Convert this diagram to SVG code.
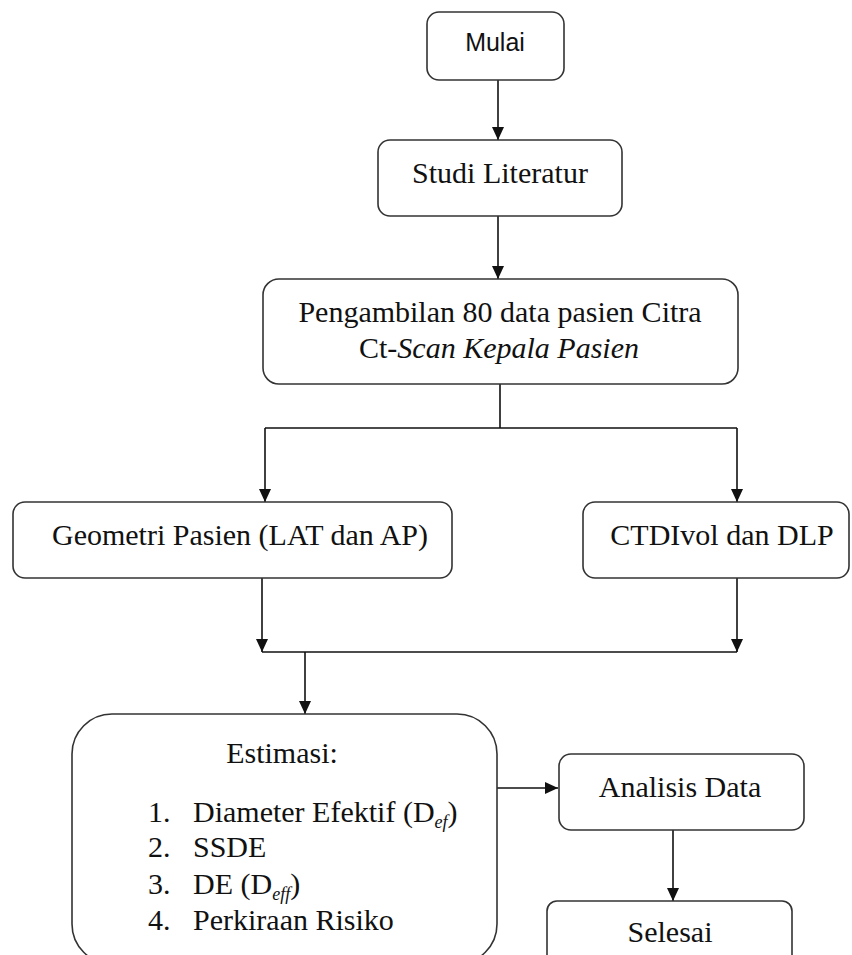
<svg xmlns="http://www.w3.org/2000/svg" width="852" height="955" viewBox="0 0 852 955">
<style>
.box{fill:#fff;stroke:#333;stroke-width:1.6}
.t{font-family:"Liberation Serif","Times New Roman",serif;font-size:30px;fill:#111}
.s{font-family:"Liberation Sans",Arial,sans-serif;font-size:25px;fill:#111}
.c{text-anchor:middle}
.conn{fill:none;stroke:#111;stroke-width:1.6}
.i{font-style:italic}
.sub{font-size:18px;font-style:italic}
</style>
<defs>
<marker id="ah" markerUnits="userSpaceOnUse" markerWidth="14" markerHeight="14" refX="13" refY="6" orient="auto">
<path d="M0,0 L13,6 L0,12 z" fill="#111"/>
</marker>
</defs>
<rect width="852" height="955" fill="#fff"/>
<g id="connectors">
<path class="conn" d="M498,68 V140" marker-end="url(#ah)"/>
<path class="conn" d="M498,207 V279" marker-end="url(#ah)"/>
<path class="conn" d="M500,382 V428 M265,428 H737"/>
<path class="conn" d="M265,428 V502" marker-end="url(#ah)"/>
<path class="conn" d="M737,428 V502" marker-end="url(#ah)"/>
<path class="conn" d="M262,578 V652" marker-end="url(#ah)"/>
<path class="conn" d="M737,578 V652" marker-end="url(#ah)"/>
<path class="conn" d="M262,652 H737"/>
<path class="conn" d="M305,652 V714" marker-end="url(#ah)"/>
<path class="conn" d="M492,788 H558" marker-end="url(#ah)"/>
<path class="conn" d="M673,830 V901" marker-end="url(#ah)"/>
</g>
<g id="mulai">
<rect class="box" x="427" y="12" width="137" height="68" rx="12"/>
<text class="s c" x="495" y="51">Mulai</text>
</g>
<g id="studi">
<rect class="box" x="378" y="140" width="244" height="76" rx="12"/>
<text class="t c" x="500" y="183">Studi Literatur</text>
</g>
<g id="pengambilan">
<rect class="box" x="263" y="279" width="475" height="105" rx="16"/>
<text class="t c" x="500" y="322">Pengambilan 80 data pasien Citra</text>
<text class="t c" x="499" y="358">Ct-<tspan class="i">Scan Kepala Pasien</tspan></text>
</g>
<g id="geometri">
<rect class="box" x="13" y="502" width="439" height="76" rx="12"/>
<text class="t c" x="240" y="545">Geometri Pasien (LAT dan AP)</text>
</g>
<g id="ctdi">
<rect class="box" x="583" y="502" width="266" height="76" rx="12"/>
<text class="t c" x="722" y="545">CTDIvol dan DLP</text>
</g>
<g id="estimasi">
<rect class="box" x="72" y="714" width="425" height="250" rx="40"/>
<text class="t c" x="282" y="763">Estimasi:</text>
<text class="t" x="148" y="822">1.</text>
<text class="t" x="193" y="822">Diameter Efektif (D<tspan class="sub" dy="6">ef</tspan><tspan dy="-6">)</tspan></text>
<text class="t" x="148" y="857">2.</text>
<text class="t" x="193" y="857">SSDE</text>
<text class="t" x="148" y="894">3.</text>
<text class="t" x="193" y="894">DE (D<tspan class="sub" dy="6">eff</tspan><tspan dy="-6">)</tspan></text>
<text class="t" x="148" y="930">4.</text>
<text class="t" x="193" y="930">Perkiraan Risiko</text>
</g>
<g id="analisis">
<rect class="box" x="559" y="754" width="245" height="76" rx="12"/>
<text class="t c" x="680" y="797">Analisis Data</text>
</g>
<g id="selesai">
<rect class="box" x="547" y="901" width="245" height="70" rx="10"/>
<text class="t c" x="670" y="942">Selesai</text>
</g>
</svg>
